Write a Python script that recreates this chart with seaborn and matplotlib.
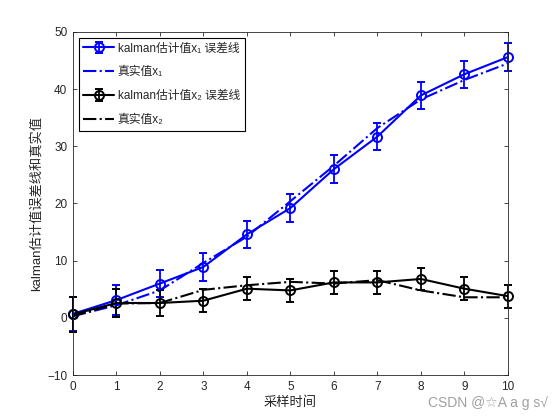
import numpy as np
import pandas as pd
import matplotlib
matplotlib.use("Agg")
import matplotlib.pyplot as plt
import seaborn as sns

# sample times
t = [0, 1, 2, 3, 4, 5, 6, 7, 8, 9, 10]

# kalman estimate of x1 and its error bar half-length
est_x1 = [0.7, 3.1, 6.0, 8.9, 14.6, 19.2, 26.0, 31.7, 38.9, 42.6, 45.6]
err_x1 = [3.0, 2.6, 2.4, 2.5, 2.4, 2.4, 2.4, 2.4, 2.4, 2.4, 2.5]
# true x1
true_x1 = [0.3, 2.2, 4.8, 9.6, 14.2, 20.4, 26.6, 33.2, 38.2, 41.6, 44.5]

# kalman estimate of x2 and its error bar half-length
est_x2 = [0.6, 2.6, 2.6, 3.0, 5.1, 4.8, 6.2, 6.2, 6.8, 5.1, 3.8]
err_x2 = [3.0, 2.4, 2.2, 2.0, 2.0, 2.0, 2.0, 2.0, 2.0, 2.0, 2.0]
# true x2
true_x2 = [0.3, 2.5, 2.6, 4.9, 5.7, 6.3, 6.0, 6.6, 4.8, 3.6, 3.6]

legend_labels = ['kalman估计值x₁ 误差线', '真实值x₁',
                 'kalman估计值x₂ 误差线', '真实值x₂']
yticks = [-10, 0, 10, 20, 30, 40, 50]

sns.set_style("ticks")
plt.rcParams['font.family'] = ['Liberation Sans', 'Noto Sans CJK SC', 'DejaVu Sans']

df = pd.DataFrame({'t': t, 'true_x1': true_x1, 'true_x2': true_x2})

fig = plt.figure(figsize=(5.6, 4.2), dpi=100)
ax = fig.add_axes([0.13, 0.107, 0.777, 0.817])

eb_style = dict(lw=1.5, marker='o', mfc='none', ms=6.5, mew=1.4, capsize=3,
                elinewidth=1.3, capthick=1.3)

h1 = ax.errorbar(t, est_x1, yerr=err_x1, color='blue', **eb_style)
sns.lineplot(data=df, x='t', y='true_x1', ax=ax, color='blue', lw=1.5,
             linestyle='-.')
h3 = ax.errorbar(t, est_x2, yerr=err_x2, color='black', **eb_style)
sns.lineplot(data=df, x='t', y='true_x2', ax=ax, color='black', lw=1.5,
             linestyle='-.')
for h in (h1, h3):
    for art in h.get_children():
        art.set_clip_on(False)
lines = [l for l in ax.get_lines() if l.get_linestyle() == '-.']
h2, h4 = lines[0], lines[1]

ax.set_xlim(0, 10)
ax.set_ylim(-10, 50)
ax.set_xticks(t)
ax.set_yticks(yticks)
ax.tick_params(direction='in', top=True, right=True, labelsize=8.5,
               length=3, width=0.6, colors='#262626', pad=4)
for s in ax.spines.values():
    s.set_linewidth(0.6)
    s.set_color('#262626')

ax.set_xlabel('采样时间', fontsize=9.5, labelpad=3)
ax.set_ylabel('kalman估计值误差线和真实值', fontsize=9.5, labelpad=3)

leg = ax.legend([h1, h2, h3, h4], legend_labels,
                loc='upper left', fontsize=8.5, frameon=True, fancybox=False,
                edgecolor='black', framealpha=1, handlelength=2.6,
                handletextpad=0.3, borderaxespad=0.5, labelspacing=1.0)
leg.get_frame().set_linewidth(0.8)

fig.text(0.979, 0.04, 'CSDN @☆A a g s√', ha='right', va='center',
         fontsize=10, color='#a0a0a0',
         family=['Liberation Sans', 'DejaVu Sans'])

fig.savefig('out.png', dpi=100)
